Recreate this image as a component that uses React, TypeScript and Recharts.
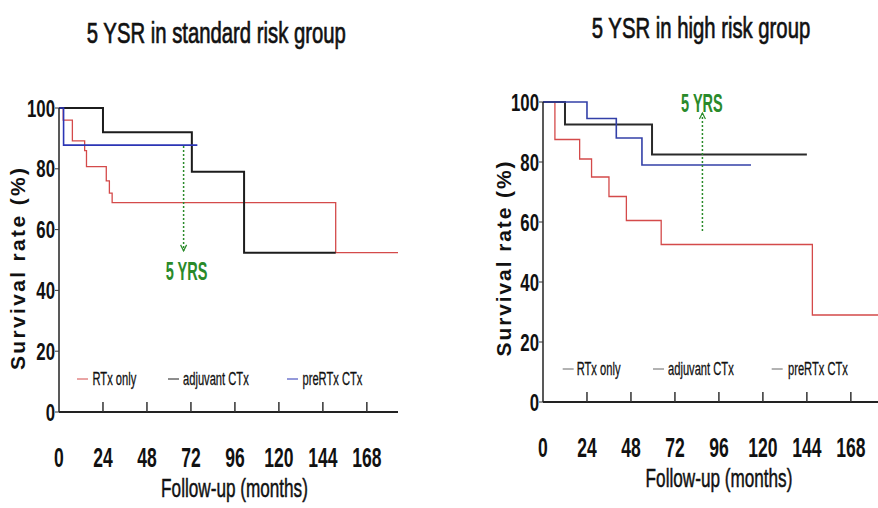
import React from "react";
import { LineChart, Line, XAxis, YAxis, Legend, ReferenceDot } from "recharts";

const FONT = "'Liberation Sans', Arial, Helvetica, sans-serif";
const GREEN = "#2a8a2a";

const monthTicks = [0, 24, 48, 72, 96, 120, 144, 168];
const rateTicks = [0, 20, 40, 60, 80, 100];
const seriesNames = ["RTx only", "adjuvant CTx", "preRTx CTx"];

// standard risk group (Kaplan-Meier steps)
const stdRtxMonths = [0, 2.3, 7.3, 14, 15, 25.8, 27.5, 29, 151, 185];
const stdRtxRate = [100, 96, 89.2, 86, 80.7, 76, 72, 68.9, 52.4, 52.4];
const stdAdjMonths = [0, 24, 72.5, 101, 151];
const stdAdjRate = [100, 92, 79, 52.4, 52.4];
const stdPreMonths = [0, 2.5, 75.5];
const stdPreRate = [100, 87.8, 87.8];
const stdArrowMonths = [68, 68];
const stdArrowRate = [87.5, 53];
const stdYrsLabel = { month: 69.6, rate: 43.4 };

// high risk group
const highRtxMonths = [0, 6.5, 20, 26.5, 36, 45.5, 64.5, 147, 185];
const highRtxRate = [100, 87.5, 81, 75, 68.5, 60.5, 52.5, 29, 29];
const highAdjMonths = [0, 12, 59.5, 144];
const highAdjRate = [100, 92.5, 82.5, 82.5];
const highPreMonths = [0, 24, 40, 54, 113.5];
const highPreRate = [100, 94.5, 88, 79, 79];
const highArrowMonths = [87, 87];
const highArrowRate = [57, 96.3];
const highYrsLabel = { month: 86.7, rate: 96.8 };

const zip = (xs: number[], ys: number[]) => xs.map((x, i) => ({ x, y: ys[i] }));

const XTick = ({ x, y, payload }: any) => (
  <g>
    {payload.value !== 0 && <line x1={x} x2={x} y1={y} y2={y - 10} stroke="#333" strokeWidth={1.5} />}
    <text
      transform={`translate(${x},${y + 55}) scale(0.65,1)`}
      textAnchor="middle"
      fontSize={27}
      fontWeight="bold"
      fontFamily={FONT}
      fill="#111"
    >
      {payload.value}
    </text>
  </g>
);

const YTick = ({ x, y, payload }: any) => (
  <text
    transform={`translate(${x},${y}) scale(0.7,1)`}
    textAnchor="end"
    dy="0.36em"
    fontSize={24}
    fontWeight="bold"
    fontFamily={FONT}
    fill="#111"
  >
    {payload.value}
  </text>
);

const arrowDot = (dir: "up" | "down") => (props: any) => {
  const { cx, cy, index } = props;
  if (index !== 1) return <g key={`a${index}`} />;
  const w = dir === "down" ? -6 : 6;
  return (
    <path
      key={`a${index}`}
      d={`M${cx - 3},${cy + w} L${cx},${cy} L${cx + 3},${cy + w}`}
      fill="none"
      stroke={GREEN}
      strokeWidth={1.2}
    />
  );
};

const yrsShape = (props: any) => (
  <text
    transform={`translate(${props.cx},${props.cy}) scale(0.58,1)`}
    textAnchor="middle"
    fontSize={25}
    fontWeight="bold"
    fontFamily={FONT}
    fill={GREEN}
  >
    5 YRS
  </text>
);

const makeLegend = (items: { line: number; text: number }[], width: number, muted: boolean) =>
  (props: any) => {
    const payload = (props.payload || []).filter((p: any) => seriesNames.includes(p.value));
    return (
      <svg width={width} height={24} style={{ overflow: "visible", display: "block" }}>
        {payload.map((p: any, i: number) => (
          <g key={p.value}>
            <line
              x1={items[i].line}
              x2={items[i].line + 11}
              y1={12}
              y2={12}
              stroke={muted ? "#666" : p.color}
              strokeWidth={1}
            />
            <text
              transform={`translate(${items[i].text},18) scale(0.62,1)`}
              fontSize={18}
              fontFamily={FONT}
              fill="#111"
              stroke="#111"
              strokeWidth={0.3}
            >
              {p.value}
            </text>
          </g>
        ))}
      </svg>
    );
  };

type PanelProps = {
  left: number;
  width: number;
  margin: { top: number; right: number; bottom: number; left: number };
  rtx: { x: number; y: number }[];
  adj: { x: number; y: number }[];
  pre: { x: number; y: number }[];
  arrow: { x: number; y: number }[];
  arrowDir: "up" | "down";
  yrs: { month: number; rate: number };
  legendTop: number;
  legendItems: { line: number; text: number }[];
  mutedLegend: boolean;
  yLabel: { x: number; y: number; len: number };
  xLabel: { x: number; y: number };
  colors: { rtx: string; adj: string; pre: string };
};

const Panel = (p: PanelProps) => (
  <LineChart
    width={p.width}
    height={508}
    margin={p.margin}
    style={{ position: "absolute", left: p.left, top: 0 }}
  >
    <XAxis
      type="number"
      dataKey="x"
      domain={[0, 185]}
      ticks={monthTicks}
      allowDataOverflow
      height={60}
      tickSize={0}
      tickMargin={0}
      tick={<XTick />}
      axisLine={{ stroke: "#222", strokeWidth: 2 }}
      label={{
        content: () => (
          <text
            transform={`translate(${p.xLabel.x},${p.xLabel.y}) scale(0.66,1)`}
            textAnchor="middle"
            fontSize={26}
            fontFamily={FONT}
            fill="#111"
            stroke="#111"
            strokeWidth={0.5}
          >
            Follow-up (months)
          </text>
        ),
      }}
    />
    <YAxis
      type="number"
      domain={[0, 100]}
      ticks={rateTicks}
      width={50}
      tickSize={4}
      tickMargin={0}
      tick={<YTick />}
      tickLine={{ stroke: "#333" }}
      axisLine={{ stroke: "#222", strokeWidth: 1.5 }}
      label={{
        content: () => (
          <text
            transform={`translate(${p.yLabel.x},${p.yLabel.y}) rotate(-90)`}
            textAnchor="middle"
            fontSize={21}
            fontWeight="bold"
            fontFamily={FONT}
            fill="#111"
            textLength={p.yLabel.len}
            lengthAdjust="spacing"
          >
            Survival rate (%)
          </text>
        ),
      }}
    />
    <Legend
      layout="horizontal"
      align="center"
      verticalAlign="middle"
      wrapperStyle={{ left: 0, top: p.legendTop, width: p.width, height: 24 }}
      content={makeLegend(p.legendItems, p.width, p.mutedLegend)}
    />
    <Line
      name="RTx only"
      data={p.rtx}
      dataKey="y"
      type="stepAfter"
      stroke={p.colors.rtx}
      strokeWidth={1.3}
      dot={false}
      activeDot={false}
      isAnimationActive={false}
    />
    <Line
      name="adjuvant CTx"
      data={p.adj}
      dataKey="y"
      type="stepAfter"
      stroke={p.colors.adj}
      strokeWidth={2}
      dot={false}
      activeDot={false}
      isAnimationActive={false}
    />
    <Line
      name="preRTx CTx"
      data={p.pre}
      dataKey="y"
      type="stepAfter"
      stroke={p.colors.pre}
      strokeWidth={1.6}
      dot={false}
      activeDot={false}
      isAnimationActive={false}
    />
    <Line
      name="5 yrs"
      legendType="none"
      data={p.arrow}
      dataKey="y"
      type="linear"
      stroke={GREEN}
      strokeWidth={1.5}
      strokeDasharray="2 2"
      dot={arrowDot(p.arrowDir)}
      activeDot={false}
      isAnimationActive={false}
    />
    <ReferenceDot x={p.yrs.month} y={p.yrs.rate} r={0} ifOverflow="visible" shape={yrsShape} />
  </LineChart>
);

const titleStyle = {
  fontSize: 29,
  fontFamily: FONT,
  fill: "#111",
  stroke: "#111",
  strokeWidth: 0.7,
};

export default function App() {
  return (
    <div
      style={{
        position: "absolute",
        left: 0,
        top: 0,
        width: 878,
        height: 508,
        overflow: "hidden",
        background: "#fff",
      }}
    >
      <svg width={878} height={60} style={{ position: "absolute", left: 0, top: 0 }}>
        <text transform="translate(216.3,43) scale(0.7,1)" textAnchor="middle" style={titleStyle}>
          5 YSR in standard risk group
        </text>
        <text transform="translate(701,38.3) scale(0.7,1)" textAnchor="middle" style={titleStyle}>
          5 YSR in high risk group
        </text>
      </svg>
      <Panel
        left={0}
        width={440}
        margin={{ top: 108, right: 42, bottom: 36, left: 9 }}
        rtx={zip(stdRtxMonths, stdRtxRate)}
        adj={zip(stdAdjMonths, stdAdjRate)}
        pre={zip(stdPreMonths, stdPreRate)}
        arrow={zip(stdArrowMonths, stdArrowRate)}
        arrowDir="down"
        yrs={stdYrsLabel}
        legendTop={367}
        legendItems={[
          { line: 77, text: 92.5 },
          { line: 168, text: 183 },
          { line: 287, text: 302.5 },
        ]}
        mutedLegend={false}
        yLabel={{ x: 25, y: 269, len: 202 }}
        xLabel={{ x: 234.5, y: 497 }}
        colors={{ rtx: "#d44a4a", adj: "#1c1c1c", pre: "#2b35b5" }}
      />
      <Panel
        left={440}
        width={445}
        margin={{ top: 102, right: 3, bottom: 46, left: 53 }}
        rtx={zip(highRtxMonths, highRtxRate)}
        adj={zip(highAdjMonths, highAdjRate)}
        pre={zip(highPreMonths, highPreRate)}
        arrow={zip(highArrowMonths, highArrowRate)}
        arrowDir="up"
        yrs={highYrsLabel}
        legendTop={357}
        legendItems={[
          { line: 122.7, text: 136.7 },
          { line: 213, text: 228 },
          { line: 331.7, text: 348 },
        ]}
        mutedLegend={true}
        yLabel={{ x: 71, y: 259, len: 195 }}
        xLabel={{ x: 279, y: 487 }}
        colors={{ rtx: "#d44a4a", adj: "#2a2a2a", pre: "#3340a8" }}
      />
    </div>
  );
}
